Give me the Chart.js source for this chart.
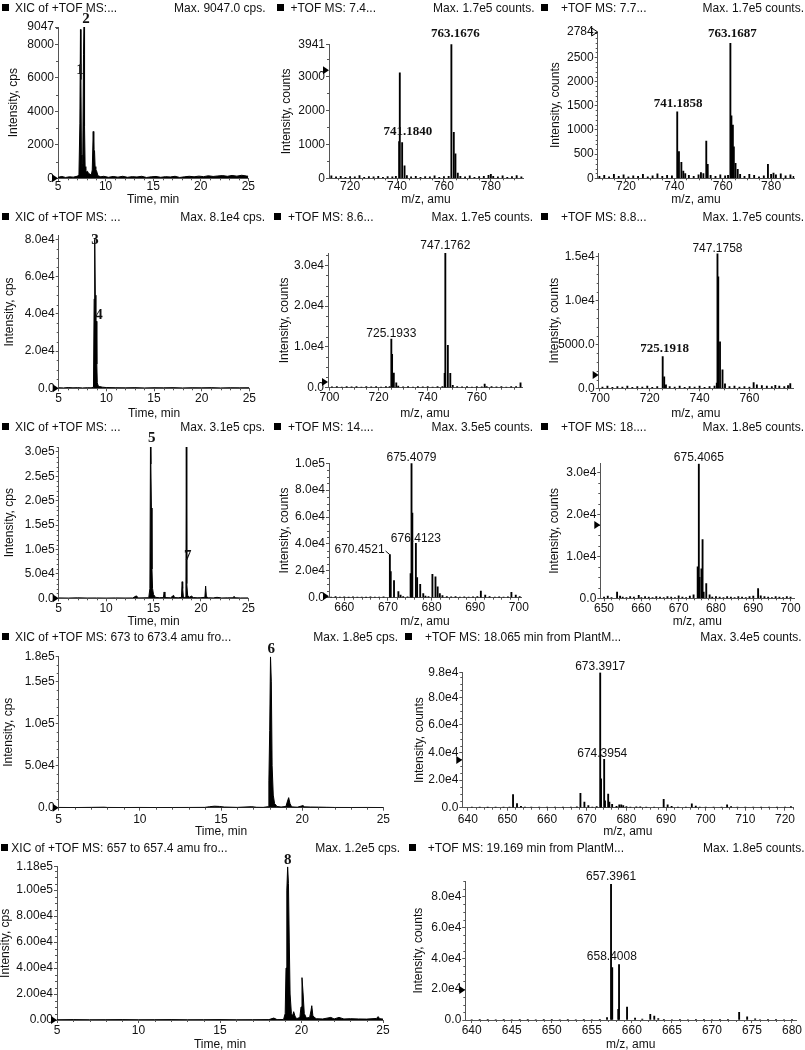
<!DOCTYPE html>
<html><head><meta charset="utf-8">
<script src="https://cdn.jsdelivr.net/npm/chart.js@4.4.1/dist/chart.umd.min.js"></script>
<style>
html,body{margin:0;padding:0;background:#fff;}
body{width:805px;height:1050px;position:relative;overflow:hidden;font-family:"Liberation Sans",Arial,sans-serif;}
.hdr{position:absolute;font-size:12px;line-height:14px;color:#111;white-space:nowrap;z-index:5;}
.sq{position:absolute;width:7px;height:7px;background:#000;z-index:5;}
canvas{position:absolute;}
</style></head><body>
<script>
// ================= DATA =================
const timeTicks = [5,10,15,20,25];

// Panel 1: XIC (compounds 1,2)
const xic1 = [[5.0,60],[5.4,110],[5.8,50],[6.2,90],[6.6,70],[7.0,120],[7.2,180],[7.3,3300],[7.36,8900],[7.41,5900],[7.46,1400],[7.52,600],[7.6,900],[7.68,7400],[7.74,9047],[7.79,3100],[7.85,700],[7.92,450],[8.0,380],[8.1,420],[8.2,300],[8.35,250],[8.5,200],[8.6,500],[8.7,2800],[8.76,1700],[8.84,1650],[8.9,700],[8.97,520],[9.05,450],[9.2,150],[9.5,90],[9.8,120],[10.3,60],[10.8,110],[11.3,70],[11.8,120],[12.3,60],[12.8,100],[13.3,80],[13.8,120],[14.3,50],[14.8,90],[15.3,110],[15.8,60],[16.3,100],[16.8,80],[17.3,120],[17.8,50],[18.3,90],[18.8,120],[19.3,90],[19.8,130],[20.3,100],[20.8,150],[21.3,110],[21.8,140],[22.3,160],[22.8,120],[23.3,170],[23.8,130],[24.3,180],[24.8,140],[25.0,120]];
const yTicks1 = [0,2000,4000,6000,8000,9047];
const yLabels1 = ["0","2000","4000","6000","8000","9047"];
const peaks1 = [{x:7.31,y:6475,t:"1"},{x:7.94,y:9507,t:"2"}];

// Panel 2: MS 7.4 min
const spec2 = [[712,70],[714,40],[716,60],[718,30],[720,50],[722,40],[724,80],[726,30],[728,50],[730,40],[732,60],[734,30],[736,50],[738,40],[739.5,60],[740.9,1080],[741.18,3100],[742.18,1050],[743.2,370],[744.2,80],[746,40],[748,60],[750,30],[752,50],[754,40],[756,70],[758,30],[760,50],[762,60],[763.17,3941],[764.2,1350],[764.9,720],[765.9,150],[767,60],[769,40],[771,70],[773,30],[775,50],[777,60],[779,90],[780,120],[781,60],[783,40],[785,70],[787,30],[789,50],[791,80],[793,40]];
const xTicks2 = [720,740,760,780];
const yTicks2 = [0,1000,2000,3000,3941];
const yLabels2 = ["0","1000","2000","3000","3941"];
const peaks2 = [{x:763.17,y:4264,t:"763.1676",dx:4},{x:741.18,y:1370,t:"741.1840",dx:8}];

// Panel 3: MS 7.7 min
const spec3 = [[709,40],[711,60],[713,30],[715,80],[717,40],[719,70],[721,30],[723,50],[725,40],[727,80],[729,30],[731,50],[733,90],[735,40],[737,60],[739,50],[741.19,1370],[741.9,550],[742.9,330],[743.7,150],[744.5,100],[746,60],[748,40],[750,70],[751,120],[752,100],[753.2,770],[753.8,290],[755,60],[757,40],[759,70],[761,50],[762.2,60],[763.17,2784],[763.6,1290],[764.2,1100],[764.6,650],[765.3,310],[766.2,185],[767.2,80],[769,40],[771,80],[773,60],[775,30],[777,50],[778.7,290],[780,80],[781,110],[782,70],[784,90],[786,50],[788,70],[789.3,40]];
const xTicks3 = [720,740,760,780];
const yTicks3 = [0,500,1000,1500,2000,2500,3020];
const yLabels3 = ["0","500","1000","1500","2000","2500","2784"];
const peaks3 = [{x:763.17,y:2993,t:"763.1687",dx:2},{x:741.19,y:1534,t:"741.1858",dx:1}];

// Panel 4: XIC (compounds 3,4)
const xic4 = [[5,300],[5.5,200],[6,400],[6.5,250],[7,350],[7.5,200],[8,300],[8.4,250],[8.65,600],[8.72,48000],[8.78,80000],[8.84,50000],[8.9,14000],[8.95,36000],[9.0,13000],[9.05,3000],[9.15,1200],[9.3,900],[9.6,600],[10,400],[11,300],[12,250],[13,350],[14,200],[15,300],[16,250],[17,350],[18,200],[19,300],[20,250],[21,350],[22,200],[23,300],[24,250],[25,300]];
const yTicks4 = [0,20000,40000,60000,80000];
const yLabels4 = ["0.0","2.0e4","4.0e4","6.0e4","8.0e4"];
const peaks4 = [{x:8.81,y:79660,t:"3"},{x:9.23,y:39360,t:"4"}];

// Panel 5: MS 8.6 min
const spec5 = [[701,200],[703,300],[705,150],[707,250],[709,200],[711,300],[713,150],[715,250],[717,200],[719,300],[721,150],[723,250],[724.5,300],[725.19,11900],[725.5,8200],[726.2,3600],[727.2,1200],[728,400],[730,200],[732,300],[734,150],[736,250],[738,200],[740,300],[742,150],[744,250],[746,300],[746.9,3500],[747.18,32900],[748.2,10400],[749.2,3500],[750.2,600],[752,250],[754,200],[756,300],[758,150],[760,250],[762,200],[763.2,900],[764,300],[766,250],[768,200],[770,300],[772,150],[774,250],[776,300],[777.8,1200]];
const xTicks5 = [700,720,740,760];
const yTicks5 = [0,10000,20000,30000];
const yLabels5 = ["0.0","1.0e4","2.0e4","3.0e4"];
const peaks5 = [{x:747.18,y:34670,t:"747.1762"},{x:725.19,y:13330,t:"725.1933"}];

// Panel 6: MS 8.8 min
const spec6 = [[701,150],[703,250],[705,100],[707,200],[709,150],[711,250],[713,100],[715,200],[717,150],[719,250],[721,100],[723,200],[725.19,3600],[725.8,1300],[726.5,400],[728,200],[730,150],[732,250],[734,100],[736,200],[738,150],[740,250],[742,100],[744,200],[746,250],[746.9,600],[747.18,15300],[747.5,12700],[748.2,5300],[749.2,2100],[750.2,500],[752,200],[754,250],[756,150],[758,200],[760,150],[761.7,650],[763,400],[765,300],[767,250],[769,200],[770.4,350],[772,250],[774,200],[775.5,300],[776.4,550]];
const xTicks6 = [700,720,740,760];
const yTicks6 = [0,5000,10000,15000];
const yLabels6 = ["0.0","5000.0","1.0e4","1.5e4"];
const peaks6 = [{x:747.18,y:15850,t:"747.1758"},{x:725.19,y:4552,t:"725.1918",dx:2,bold:true}];

// Panel 7: XIC (compounds 5,7)
const xic7 = [[5,800],[6,500],[7,900],[8,600],[9,700],[10,500],[11,800],[12,600],[12.8,700],[13.2,5000],[13.4,800],[14,900],[14.5,1200],[14.62,20000],[14.68,310000],[14.72,275000],[14.78,185000],[14.84,60000],[14.9,20000],[15.0,8000],[15.2,2000],[15.6,1200],[16.05,1500],[16.12,13000],[16.2,1500],[16.8,1000],[17.12,6000],[17.22,1500],[17.6,1000],[17.95,2000],[18.02,34000],[18.08,20000],[18.15,3000],[18.3,1500],[18.42,3000],[18.46,310000],[18.49,70000],[18.53,30000],[18.6,6000],[18.8,2000],[19.0,4500],[19.2,1500],[19.6,1000],[20.0,1200],[20.42,2000],[20.5,25000],[20.58,3000],[20.8,1000],[21.3,800],[21.7,2000],[22.2,700],[22.8,900],[23.4,1000],[23.5,4000],[23.6,1000],[24.2,700],[25,800]];
const yTicks7 = [0,50000,100000,150000,200000,250000,300000];
const yLabels7 = ["0.0","5.0e4","1.0e5","1.5e5","2.0e5","2.5e5","3.0e5"];
const peaks7 = [{x:14.81,y:327800,t:"5"},{x:18.61,y:87290,t:"7"}];

// Panel 8: MS 14 min
const spec8 = [[657,500],[658,800],[659,400],[660,600],[661,300],[662,700],[663,400],[664,500],[665,300],[666,600],[667,400],[668,500],[669,700],[670.45,32000],[670.65,19500],[671.4,12700],[672.4,4500],[672.9,2000],[673.5,900],[674.5,700],[675.2,18000],[675.41,100000],[675.6,63000],[676.41,40500],[676.7,15000],[677.4,10000],[678.1,3000],[678.6,1200],[679.3,800],[680.2,17400],[680.9,15600],[681.4,8000],[681.9,3000],[682.5,1500],[683.5,900],[684.5,600],[685.5,800],[686.5,500],[687.5,700],[688.5,400],[689.5,600],[690.5,800],[691.3,5000],[692.3,2000],[693.3,900],[694.5,500],[695.5,700],[696.5,400],[697.5,600],[698.3,4000],[699.3,2000],[700.2,800]];
const xTicks8 = [660,670,680,690,700];
const yTicks8 = [0,20000,40000,60000,80000,100000];
const yLabels8 = ["0.0","2.0e4","4.0e4","6.0e4","8.0e4","1.0e5"];
const peaks8 = [{x:675.41,y:104460,t:"675.4079"},{x:676.41,y:44190,t:"676.4123"},{x:663.5,y:35490,t:"670.4521",to:[670.45,32000]}];

// Panel 9: MS 18 min
const spec9 = [[650,300],[651,500],[652,200],[653.5,1500],[654.3,500],[655,300],[656,200],[657,400],[658,300],[659.3,700],[660,200],[661,400],[662,300],[663,200],[664,400],[665,300],[666,200],[667,400],[668,300],[669,200],[670,600],[671,300],[672,200],[673,500],[674,800],[675.1,7500],[675.41,32000],[675.6,5000],[676.1,7000],[676.41,14000],[676.7,1500],[677.4,3500],[678.3,800],[679,300],[680,400],[681,300],[682,200],[683,400],[684,300],[685,200],[686,400],[687,300],[688,200],[689,400],[690,500],[691.3,2300],[692,600],[693,400],[694,300],[695,200],[696,400],[697,300],[698,200],[699,400],[700,300]];
const xTicks9 = [650,660,670,680,690,700];
const yTicks9 = [0,10000,20000,30000];
const yLabels9 = ["0.0","1.0e4","2.0e4","3.0e4"];
const peaks9 = [{x:675.41,y:33630,t:"675.4065"}];

// Panel 10: XIC 673-673.4 (compound 6)
const xic10 = [[5,300],[6,200],[7,400],[7.8,600],[8,300],[9,200],[10,300],[11,200],[12,250],[13,300],[14,400],[14.3,1200],[14.6,1800],[14.9,1500],[15.2,800],[16,400],[16.9,1200],[17.2,500],[17.6,400],[17.9,1200],[17.95,32000],[18.0,92000],[18.05,180000],[18.1,150000],[18.15,50000],[18.22,15000],[18.3,5000],[18.45,1500],[18.7,800],[19.0,1500],[19.1,8000],[19.17,12000],[19.25,5000],[19.35,1000],[19.7,600],[20.05,2500],[20.15,1000],[20.5,800],[21,700],[21.5,500],[22,300],[23,250],[24,300],[25,200]];
const yTicks10 = [0,50000,100000,150000,180000];
const yLabels10 = ["0.0","5.0e4","1.0e5","1.5e5","1.8e5"];
const peaks10 = [{x:18.1,y:189200,t:"6"}];

// Panel 11: MS 18.065 min
const spec11 = [[641,300],[643,500],[645,200],[647,400],[649,300],[650.5,500],[651.4,9600],[652.4,3000],[653.4,1000],[654.4,500],[656,300],[658,400],[660,300],[662,500],[664,200],[666,400],[667.5,600],[668.4,10400],[669.4,4000],[670.4,1500],[671.4,500],[672.5,800],[673.39,98000],[673.6,21000],[674.39,35000],[674.6,5000],[675.4,9900],[675.7,4000],[676.4,2500],[677.5,1000],[678.2,2000],[678.7,2000],[679.2,1500],[680,800],[681,500],[682.5,700],[683.5,600],[685,400],[687,300],[689.4,6000],[690.4,2000],[691.4,1000],[693,400],[695,300],[696.5,2800],[697.5,1200],[698.5,500],[700,300],[702,400],[704,300],[705.4,2000],[706.4,800],[708,300],[710,400],[712,300],[714,200],[716,300],[718,200],[720,300],[721.5,800]];
const xTicks11 = [640,650,660,670,680,690,700,710,720];
const yTicks11 = [0,20000,40000,60000,80000,98000];
const yLabels11 = ["0.0","2.0e4","4.0e4","6.0e4","8.0e4","9.8e4"];
const peaks11 = [{x:673.39,y:102200,t:"673.3917"},{x:673.9,y:39430,t:"674.3954"}];

// Panel 12: XIC 657-657.4 (compound 8)
const xic12 = [[5,200],[6,300],[7,200],[8,250],[9,300],[10,200],[11,250],[12,300],[13,200],[14,250],[15,300],[16,200],[17,250],[18,300],[18.3,1500],[18.5,300],[18.9,400],[19.0,5000],[19.05,40000],[19.1,100000],[19.15,118000],[19.2,105000],[19.25,60000],[19.3,20000],[19.38,5000],[19.45,3000],[19.52,6400],[19.6,3000],[19.7,1000],[19.9,2000],[19.97,10000],[20.03,32600],[20.1,20000],[20.17,5000],[20.3,1500],[20.5,2000],[20.58,7000],[20.63,11000],[20.7,3000],[20.9,1000],[21.3,800],[21.8,2000],[22.0,800],[22.3,2000],[22.6,800],[23,1000],[23.5,800],[24,700],[24.6,1200],[24.7,2600],[24.8,1000],[25,700]];
const yTicks12 = [0,20000,40000,60000,80000,100000,118000];
const yLabels12 = ["0.00","2.00e4","4.00e4","6.00e4","8.00e4","1.00e5","1.18e5"];
const peaks12 = [{x:19.15,y:123150,t:"8"}];

// Panel 13: MS 19.169 min
const spec13 = [[640,300],[641,200],[642,400],[643,300],[644,200],[645,300],[646,400],[647,200],[648,300],[649,200],[650,400],[651,300],[652,200],[653,300],[654,400],[655,300],[656,500],[656.9,1500],[657.4,88000],[657.55,34000],[658.3,7000],[658.4,36000],[659.4,8400],[660.4,1200],[661.3,600],[662.3,3700],[662.8,2500],[663.3,1000],[664,500],[665,300],[666,400],[667,300],[668,200],[669,400],[670,300],[671,200],[672,400],[673.4,5000],[674.4,2000],[675.4,800],[676,300],[677,400],[678,200],[679,300],[680,200]];
const xTicks13 = [640,645,650,655,660,665,670,675,680];
const yTicks13 = [0,20000,40000,60000,80000];
const yLabels13 = ["0.0","2.0e4","4.0e4","6.0e4","8.0e4"];
const peaks13 = [{x:657.4,y:93000,t:"657.3961"},{x:657.5,y:41080,t:"658.4008"}];

// Header texts
const headLeft = ["XIC of +TOF MS:...","+TOF MS: 7.4...","+TOF MS: 7.7...","XIC of +TOF MS: ...","+TOF MS: 8.6...","+TOF MS: 8.8...","XIC of +TOF MS: ...","+TOF MS: 14....","+TOF MS: 18....","XIC of +TOF MS: 673 to 673.4 amu fro...","+TOF MS: 18.065 min from PlantM...","XIC of +TOF MS: 657 to 657.4 amu fro...","+TOF MS: 19.169 min from PlantM..."];
const headRight = ["Max. 9047.0 cps.","Max. 1.7e5 counts.","Max. 1.7e5 counts.","Max. 8.1e4 cps.","Max. 1.7e5 counts.","Max. 1.7e5 counts.","Max. 3.1e5 cps.","Max. 3.5e5 counts.","Max. 1.8e5 counts.","Max. 1.8e5 cps.","Max. 3.4e5 counts.","Max. 1.2e5 cps.","Max. 1.8e5 counts."];

// ================= LAYOUT =================
const FONT = '"Liberation Sans", Arial, sans-serif';
const T_TIME = "Time, min", T_MZ = "m/z, amu", T_CPS = "Intensity, cps", T_CNT = "Intensity, counts";

const panels = [
 {kind:'xic', data:xic1, xr:[5,25], xt:timeTicks, xm:1, yMax:9047, yt:yTicks1, yl:yLabels1, ym:1000, pk:peaks1, mk:{v:0},
  box:[0,0,268,207], area:[58,27,248.3,178.3], xPad:-2.2, yTP:6, xT:T_TIME, yT:T_CPS, hd:[2,15,265.5,8]},
 {kind:'spec', data:spec2, xr:[711,793.7], xt:xTicks2, xm:5, yMax:3941, yt:yTicks2, yl:yLabels2, ym:500, pk:peaks2, mk:{v:3180},
  box:[268,0,536,207], area:[329,44.3,523,178.3], xPad:-2.2, yTP:11, xT:T_MZ, yT:T_CNT, hd:[277,290.5,534.5,8]},
 {kind:'spec', data:spec3, xr:[708.3,789.6], xt:xTicks3, xm:5, yMax:3020, yt:yTicks3, yl:yLabels3, ym:100, pk:peaks3, mk:{v:3020,hollow:true},
  box:[536,0,805,207], area:[597.7,32,794.3,178.3], xPad:-2.2, yTP:12.8, xT:T_MZ, yT:T_CNT, hd:[541,561,804,8]},
 {kind:'xic', data:xic4, xr:[5,25], xt:timeTicks, xm:1, yMax:82000, yt:yTicks4, yl:yLabels4, ym:5000, pk:peaks4, mk:{v:0},
  box:[0,205,268,421], area:[58.7,235.6,249.3,388.3], xPad:-0.2, yTP:2.1, xT:T_TIME, yT:T_CPS, hd:[2,15,265,217]},
 {kind:'spec', data:spec5, xr:[699.4,778.4], xt:xTicks5, xm:5, yMax:33000, yt:yTicks5, yl:yLabels5, ym:2500, pk:peaks5, mk:{v:1400},
  box:[268,205,536,421], area:[328,253,522,387.7], xPad:-0.2, yTP:9.5, xT:T_MZ, yT:T_CNT, hd:[274,288,533,217]},
 {kind:'spec', data:spec6, xr:[699.5,777.5], xt:xTicks6, xm:5, yMax:15400, yt:yTicks6, yl:yLabels6, ym:1000, pk:peaks6, mk:{v:1500},
  box:[536,205,805,421], area:[598.7,253,793,388.3], xPad:-0.2, yTP:11, xT:T_MZ, yT:T_CNT, hd:[541,561,804,217]},
 {kind:'xic', data:xic7, xr:[5,25], xt:timeTicks, xm:1, yMax:310000, yt:yTicks7, yl:yLabels7, ym:10000, pk:peaks7, mk:{v:0},
  box:[0,415,268,629], area:[58.7,447,248.3,598.3], xPad:-0.2, yTP:2.8, xT:T_TIME, yT:T_CPS, hd:[2,15,265,427]},
 {kind:'spec', data:spec8, xr:[656.5,700.5], xt:xTicks8, xm:2, yMax:100000, yt:yTicks8, yl:yLabels8, ym:5000, pk:peaks8, mk:{v:1000},
  box:[268,415,536,629], area:[329,463.3,521,597.7], xPad:-0.2, yTP:9.5, xT:T_MZ, yT:T_CNT, hd:[274,288,533,427]},
 {kind:'spec', data:spec9, xr:[649,701], xt:xTicks9, xm:2, yMax:32200, yt:yTicks9, yl:yLabels9, ym:2500, pk:peaks9, mk:{v:17500},
  box:[536,415,805,629], area:[600.3,463.3,794.3,598.3], xPad:-0.2, yTP:11, xT:T_MZ, yT:T_CNT, hd:[541,561,804,427]},
 {kind:'xic', data:xic10, xr:[5,25], xt:timeTicks, xm:1, yMax:180000, yt:yTicks10, yl:yLabels10, ym:10000, pk:peaks10, mk:{v:0},
  box:[0,625,400,839], area:[58.7,656.7,383.3,807.7], xPad:2.1, yTP:1.8, xT:T_TIME, yT:T_CPS, hd:[2,15,398,637]},
 {kind:'spec', data:spec11, xr:[638.6,722.1], xt:xTicks11, xm:2, yMax:98000, yt:yTicks11, yl:yLabels11, ym:5000, pk:peaks11, mk:{v:34600},
  box:[400,625,805,839], area:[462.3,672.5,793.3,807.7], xPad:2.1, yTP:12.8, xT:T_MZ, yT:T_CNT, hd:[405,425,801.7,637]},
 {kind:'xic', data:xic12, xr:[5,25], xt:timeTicks, xm:1, yMax:118000, yt:yTicks12, yl:yLabels12, ym:5000, pk:peaks12, mk:{v:0},
  box:[0,835,400,1052], area:[57,866.7,383,1020], xPad:0.8, yTP:-2, xT:T_TIME, yT:T_CPS, hd:[0.5,11.3,400,847.5]},
 {kind:'spec', data:spec13, xr:[639.2,680.5], xt:xTicks13, xm:1, yMax:90000, yt:yTicks13, yl:yLabels13, ym:5000, pk:peaks13, mk:{v:19500},
  box:[400,835,805,1052], area:[465.3,881.3,796,1020], xPad:0.8, yTP:11.8, xT:T_MZ, yT:T_CNT, hd:[409,427.8,804.5,847.5]}
];

// ================= PLUGIN (minor ticks, markers, peak labels) =================
const extras = {
  id: 'extras',
  afterDraw(chart, args, o) {
    const ctx = chart.ctx, xs = chart.scales.x, ys = chart.scales.y, ca = chart.chartArea;
    ctx.save();
    ctx.strokeStyle = '#555'; ctx.lineWidth = 1;
    ctx.beginPath();
    const near = (arr, v, s) => arr.some(t => Math.abs(t - v) < s * 1e-3);
    for (let k = Math.ceil(xs.min / o.xm - 1e-9); k * o.xm <= xs.max + 1e-9; k++) {
      const v = k * o.xm; if (near(o.xt, v, o.xm)) continue;
      const px = Math.round(xs.getPixelForValue(v)) + 0.5;
      ctx.moveTo(px, ca.bottom); ctx.lineTo(px, ca.bottom + 2);
    }
    for (let k = 1; k * o.ym <= ys.max + 1e-9; k++) {
      const v = k * o.ym; if (near(o.yt, v, o.ym)) continue;
      const py = Math.round(ys.getPixelForValue(v)) + 0.5;
      ctx.moveTo(ca.left - 2, py); ctx.lineTo(ca.left, py);
    }
    ctx.stroke();
    // marker triangle
    const my = ys.getPixelForValue(o.mk.v);
    ctx.beginPath();
    ctx.moveTo(ca.left - 6, my - 4); ctx.lineTo(ca.left, my); ctx.lineTo(ca.left - 6, my + 4); ctx.closePath();
    if (o.mk.hollow) { ctx.strokeStyle = '#000'; ctx.stroke(); } else { ctx.fillStyle = '#000'; ctx.fill(); }
    // peak labels
    ctx.fillStyle = '#111'; ctx.textAlign = 'center'; ctx.textBaseline = 'middle';
    o.pk.forEach(p => {
      const isNum = /^\d$/.test(p.t);
      const serifBold = o.spec ? (o.boldAll || p.bold) : true;
      ctx.font = isNum ? 'bold 15px "Liberation Serif", "Times New Roman", serif'
        : (serifBold ? 'bold 13px "Liberation Serif", "Times New Roman", serif' : '12px ' + FONT);
      const px = xs.getPixelForValue(p.x) + (p.dx || 0), py = ys.getPixelForValue(p.y);
      ctx.fillText(p.t, px, py);
      if (p.to) {
        const w = ctx.measureText(p.t).width;
        ctx.beginPath(); ctx.strokeStyle = '#111';
        ctx.moveTo(px + w / 2 + 1, py + 1);
        ctx.lineTo(xs.getPixelForValue(p.to[0]), ys.getPixelForValue(p.to[1]));
        ctx.stroke();
      }
    });
    ctx.restore();
  }
};

// ================= BUILD =================
function build(p, idx) {
  const [cl, ct, cr, cb] = p.box;
  const [L, T, R, B] = p.area;
  const cv = document.createElement('canvas');
  const w = cr - cl, h = cb - ct;
  cv.width = w; cv.height = h;
  cv.style.left = cl + 'px'; cv.style.top = ct + 'px';
  cv.style.width = w + 'px'; cv.style.height = h + 'px';
  document.body.appendChild(cv);
  const spec = p.kind === 'spec';
  const pts = p.data.map(d => ({x: d[0], y: d[1]}));
  const ds = spec
    ? {type: 'bar', data: pts, backgroundColor: '#000', borderWidth: 0, barThickness: 1.2}
    : {type: 'line', data: pts, borderColor: '#000', borderWidth: 1, pointRadius: 0, fill: 'origin', backgroundColor: '#000', tension: 0};
  const tickFont = {size: 12, family: FONT};
  const axisCommon = {
    grid: {display: true, drawOnChartArea: false, drawTicks: true, tickLength: 3, color: '#555', offset: false},
    border: {display: true, color: '#555', width: 1}
  };
  new Chart(cv, {
    type: spec ? 'bar' : 'line',
    data: {datasets: [ds]},
    options: {
      responsive: false, animation: false, devicePixelRatio: 1,
      layout: {padding: {left: 0, top: T - ct, right: cr - R, bottom: 0}},
      plugins: {
        legend: {display: false}, tooltip: {enabled: false},
        extras: {xm: p.xm, ym: p.ym, xt: p.xt, yt: p.yt, mk: p.mk, pk: p.pk, spec: spec, boldAll: idx < 3}
      },
      scales: {
        x: Object.assign({
          type: 'linear', min: p.xr[0], max: p.xr[1], offset: false,
          afterBuildTicks: s => { s.ticks = p.xt.map(v => ({value: v})); },
          afterFit: s => { s.height = cb - B; },
          ticks: {autoSkip: false, maxRotation: 0, padding: p.xPad, color: '#111', font: tickFont, callback: v => String(v)},
          title: {display: true, text: p.xT, color: '#111', font: tickFont, padding: 0}
        }, axisCommon),
        y: Object.assign({
          type: 'linear', min: 0, max: p.yMax,
          afterBuildTicks: s => { s.ticks = p.yt.map(v => ({value: v})); },
          afterFit: s => { s.width = L - cl; },
          ticks: {autoSkip: false, padding: 1, color: '#111', font: tickFont, callback: (v, i) => p.yl[i]},
          title: {display: true, text: p.yT, color: '#111', font: tickFont, padding: {top: p.yTP, bottom: 0}}
        }, axisCommon)
      }
    },
    plugins: [extras]
  });
  // header
  const [sx, tx, rx, hy] = p.hd;
  const sq = document.createElement('div'); sq.className = 'sq';
  sq.style.left = sx + 'px'; sq.style.top = (hy - 4) + 'px';
  document.body.appendChild(sq);
  const lt = document.createElement('div'); lt.className = 'hdr';
  lt.style.left = tx + 'px'; lt.style.top = (hy - 7) + 'px'; lt.textContent = headLeft[idx];
  document.body.appendChild(lt);
  const rt = document.createElement('div'); rt.className = 'hdr';
  rt.style.right = (805 - rx) + 'px'; rt.style.top = (hy - 7) + 'px'; rt.textContent = headRight[idx];
  document.body.appendChild(rt);
}
panels.forEach(build);
</script>
</body></html>
